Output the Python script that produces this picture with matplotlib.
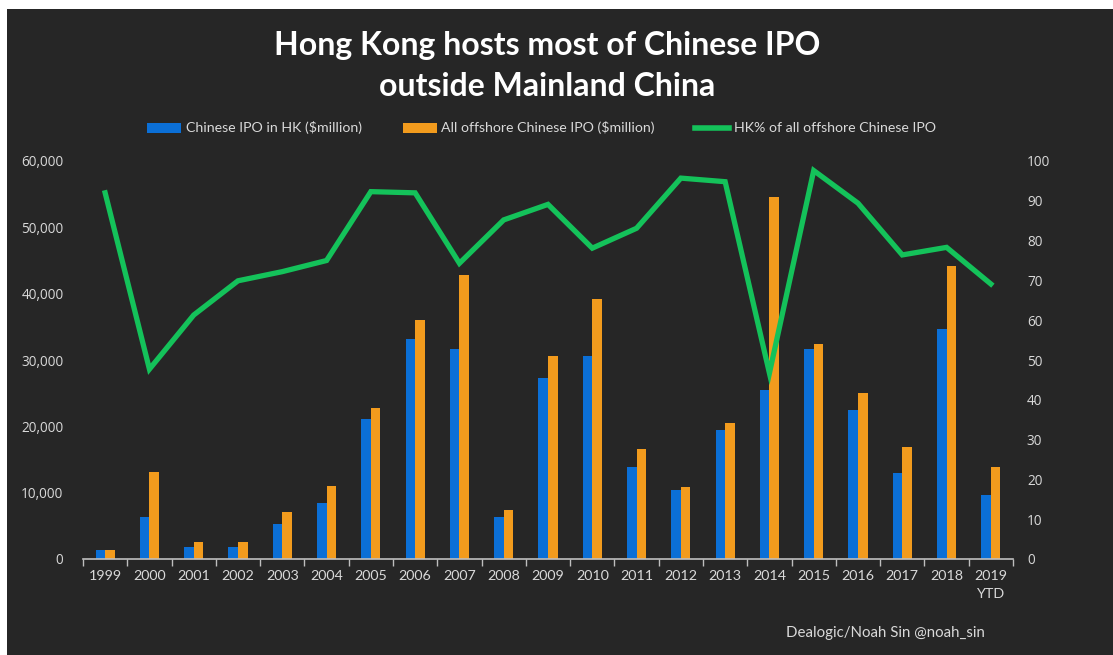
import numpy as np
import matplotlib.pyplot as plt
from matplotlib.lines import Line2D
from matplotlib.patches import Patch

# Chinese IPO proceeds ($million) and Hong Kong's share of offshore listings
years = ['1999', '2000', '2001', '2002', '2003', '2004', '2005', '2006', '2007', '2008',
         '2009', '2010', '2011', '2012', '2013', '2014', '2015', '2016', '2017', '2018',
         '2019\nYTD']
hk_ipo = [1300, 6400, 1750, 1850, 5250, 8400, 21050, 33150, 31700, 6400,
          27300, 30600, 13800, 10450, 19450, 25500, 31600, 22450, 12900, 34600,
          9650]
offshore_ipo = [1350, 13150, 2600, 2600, 7150, 11050, 22800, 36050, 42800, 7400,
                30600, 39250, 16550, 10900, 20550, 54600, 32350, 25000, 16900, 44200,
                13800]
hk_share = [92.0, 47.7, 61.3, 69.9, 72.2, 75.0, 92.3, 92.0, 74.3, 85.2,
            89.1, 78.1, 83.1, 95.7, 94.8, 46.7, 97.6, 89.4, 76.4, 78.3,
            69.1]

bg = '#262626'
blue = '#0B6FD6'
orange = '#F29B1D'
green = '#14C25A'
txt = '#D9D9D9'

fig = plt.figure(figsize=(11.13, 6.55), dpi=100)
fig.patch.set_facecolor('white')
# dark panel inside a thin white margin
fig.patches.append(plt.Rectangle((7 / 1113, 0), 1, 1 - 9 / 655,
                                 transform=fig.transFigure, facecolor=bg,
                                 edgecolor='none', zorder=-10))

ax = fig.add_axes([83 / 1113, 1 - 559 / 655, 930 / 1113, 398 / 655])
ax.set_facecolor(bg)
x = np.arange(len(years))
w = 0.215
ax.bar(x - w / 2, hk_ipo, width=w, color=blue, zorder=2)
ax.bar(x + w / 2, offshore_ipo, width=w, color=orange, zorder=2)
ax.set_xlim(-0.5, len(years) - 0.5)
ax.set_ylim(0, 60000)
ax.set_yticks(range(0, 60001, 10000))
ax.set_yticklabels([f'{v:,}' for v in range(0, 60001, 10000)],
                   fontfamily='Open Sans', fontsize=9.8, color=txt)
ax.tick_params(axis='y', length=0, pad=14)
ax.set_xticks(x)
ax.set_xticklabels(years, fontfamily='Lato', fontsize=10.3, color=txt,
                   linespacing=1.6, va='top')
ax.tick_params(axis='x', which='major', length=0, pad=8)
ax.set_xticks(np.arange(-0.5, len(years)), minor=True)
ax.tick_params(axis='x', which='minor', length=5, color='#BFBFBF', width=1)
for s in ['top', 'right', 'left']:
    ax.spines[s].set_visible(False)
ax.spines['bottom'].set_color('#BFBFBF')
ax.spines['bottom'].set_linewidth(1.2)

ax2 = ax.twinx()
ax2.plot(x, hk_share, color=green, lw=3.8, solid_joinstyle='miter', zorder=3)
ax2.set_ylim(0, 100)
ax2.set_yticks(range(0, 101, 10))
ax2.set_yticklabels([str(v) for v in range(0, 101, 10)],
                    fontfamily='Open Sans', fontsize=9.8, color=txt)
ax2.tick_params(axis='y', length=0, pad=10)
for s in ax2.spines.values():
    s.set_visible(False)

fig.text(0.492, 1 - 45 / 655, 'Hong Kong hosts most of Chinese IPO', ha='center', va='center',
         fontfamily='Lato', fontweight='bold', fontsize=23, color='white')
fig.text(0.492, 1 - 86 / 655, 'outside Mainland China', ha='center', va='center',
         fontfamily='Lato', fontweight='bold', fontsize=23, color='white')

handles = [Patch(facecolor=blue, label='Chinese IPO in HK ($million)'),
           Patch(facecolor=orange, label='All offshore Chinese IPO ($million)'),
           Line2D([0], [0], color=green, lw=4, label='HK% of all offshore Chinese IPO')]
fig.legend(handles=handles, loc='center', bbox_to_anchor=(0.4865, 1 - 128 / 655), ncol=3,
           frameon=False, prop={'family': 'Lato', 'size': 10.2}, labelcolor=txt,
           handlelength=2.4, handleheight=0.7, columnspacing=2.9, handletextpad=0.3)

fig.text(985 / 1113, 1 - 633 / 655, 'Dealogic/Noah Sin @noah_sin', ha='right', va='center',
         fontfamily='Lato', fontsize=10.8, color=txt)

fig.savefig('out.png', dpi=100, facecolor=fig.get_facecolor())
